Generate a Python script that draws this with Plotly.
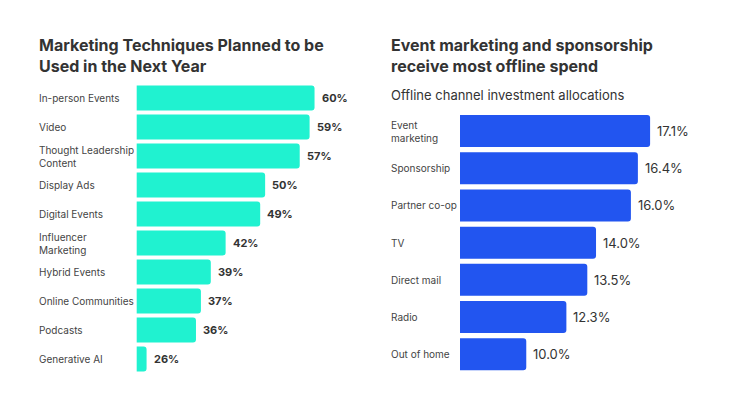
import plotly.graph_objects as go

W, H = 733, 404

# Left chart data
left_title = "Marketing Techniques Planned to be<br>Used in the Next Year"
left_cats = ["In-person Events", "Video", "Thought Leadership<br>Content", "Display Ads",
             "Digital Events", "Influencer<br>Marketing", "Hybrid Events",
             "Online Communities", "Podcasts", "Generative AI"]
left_vals = [60, 59, 57, 50, 49, 42, 39, 37, 36, 26]

# Right chart data
right_title = "Event marketing and sponsorship<br>receive most offline spend"
right_subtitle = "Offline channel investment allocations"
right_cats = ["Event<br>marketing", "Sponsorship", "Partner co-op", "TV",
              "Direct mail", "Radio", "Out of home"]
right_vals = [17.1, 16.4, 16.0, 14.0, 13.5, 12.3, 10.0]

TEAL = "#20F2D0"
BLUE = "#2255F0"
DARK = "#333333"
LABEL = "#444444"
FONT = "Inter, Roboto, sans-serif"

def px_x(p):
    return p / W

def px_y(p):
    return 1 - p / H

fig = go.Figure()

fig.add_trace(go.Bar(
    x=left_vals, y=left_cats, orientation="h", xaxis="x", yaxis="y",
    marker=dict(color=TEAL, cornerradius=3, line=dict(width=0)),
    hoverinfo="skip", showlegend=False,
))
fig.add_trace(go.Bar(
    x=right_vals, y=right_cats, orientation="h", xaxis="x2", yaxis="y2",
    marker=dict(color=BLUE, cornerradius=3, line=dict(width=0)),
    hoverinfo="skip", showlegend=False,
))

annotations = []
# titles
annotations.append(dict(text=f"<b>{left_title}</b>", xref="paper", yref="paper",
                        x=px_x(37), y=px_y(33), xanchor="left", yanchor="top",
                        align="left", showarrow=False,
                        font=dict(family=FONT, size=16, color=DARK)))
annotations.append(dict(text=f"<b>{right_title}</b>", xref="paper", yref="paper",
                        x=px_x(389), y=px_y(33), xanchor="left", yanchor="top",
                        align="left", showarrow=False,
                        font=dict(family=FONT, size=16, color=DARK)))
annotations.append(dict(text=right_subtitle, xref="paper", yref="paper",
                        x=px_x(389), y=px_y(85), xanchor="left", yanchor="top",
                        align="left", showarrow=False,
                        font=dict(family=FONT, size=13, color=DARK)))

for c, v in zip(left_cats, left_vals):
    annotations.append(dict(text=c, xref="paper", yref="y", x=px_x(37), y=c,
                            xanchor="left", yanchor="middle", align="left",
                            showarrow=False,
                            font=dict(family=FONT, size=10, color=LABEL)))
    annotations.append(dict(text=f"<b>{v}%</b>", xref="x", yref="y", x=v, y=c,
                            xanchor="left", yanchor="middle", xshift=5,
                            showarrow=False,
                            font=dict(family=FONT, size=11, color=DARK)))

for c, v in zip(right_cats, right_vals):
    annotations.append(dict(text=c, xref="paper", yref="y2", x=px_x(389), y=c,
                            xanchor="left", yanchor="middle", align="left",
                            showarrow=False,
                            font=dict(family=FONT, size=10, color=LABEL)))
    annotations.append(dict(text=f"{v:.1f}%", xref="x2", yref="y2", x=v, y=c,
                            xanchor="left", yanchor="middle", xshift=5,
                            showarrow=False,
                            font=dict(family=FONT, size=13, color=DARK)))

x1_start, x1_slope, x1_min, x1_max = 136.7, 4.94, 24, 64
x2_start, x2_slope, x2_min, x2_max = 460.0, 17.44, 6.2, 18

fig.update_layout(
    width=W, height=H,
    margin=dict(l=0, r=0, t=0, b=0),
    paper_bgcolor="white", plot_bgcolor="white",
    font=dict(family=FONT),
    bargap=0.14,
    xaxis=dict(domain=[px_x(x1_start), px_x(x1_start + x1_slope * (x1_max - x1_min))],
               range=[x1_min, x1_max], visible=False, fixedrange=True),
    yaxis=dict(domain=[px_y(373.5), px_y(83.5)], categoryorder="array",
               categoryarray=left_cats, autorange="reversed", visible=False,
               anchor="x"),
    xaxis2=dict(domain=[px_x(x2_start), px_x(x2_start + x2_slope * (x2_max - x2_min))],
                range=[x2_min, x2_max], visible=False, anchor="y2"),
    yaxis2=dict(domain=[px_y(372.9), px_y(112.4)], categoryorder="array",
                categoryarray=right_cats, autorange="reversed", visible=False,
                anchor="x2"),
    annotations=annotations,
)

fig.write_html("out.html", config={"displayModeBar": False})
